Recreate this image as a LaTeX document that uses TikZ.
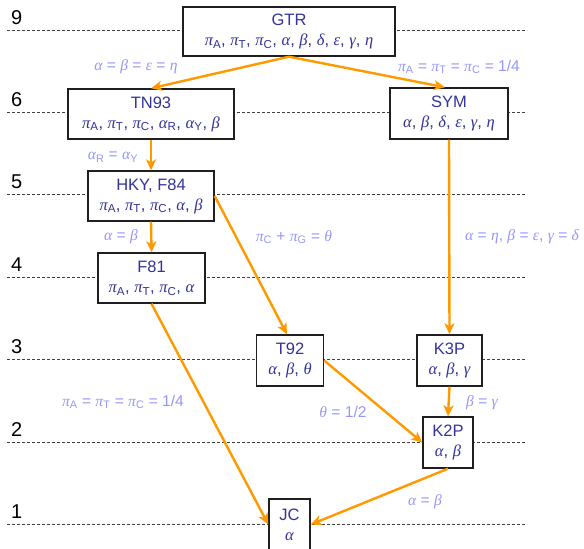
\documentclass[tikz,border=0pt]{standalone}
\usepackage{fontspec}
\setmainfont{Liberation Sans}
\newfontfamily\gkf{Liberation Serif}
\usetikzlibrary{arrows.meta}
\definecolor{boxblue}{RGB}{51,51,153}
\definecolor{lblblue}{RGB}{150,150,250}
\definecolor{arrorange}{RGB}{255,153,0}
\newcommand\gr[1]{{\gkf\itshape #1}}
\newcommand\pis[1]{\gr{π}\textsubscript{#1}}
\begin{document}
\begin{tikzpicture}[x=1pt,y=-1pt,
  box/.style={draw=black!88, line width=1.4pt, fill=white, text=boxblue, inner sep=0pt, align=center, font=\fontsize{16.5}{20}\selectfont},
  lbl/.style={text=lblblue, font=\fontsize{15.6}{18}\selectfont, inner sep=0pt},
  arr/.style={draw=arrorange, line width=2.4pt, -{Stealth[length=11pt,width=10pt,inset=3pt]}},
  lvl/.style={draw=black!75, line width=0.8pt, dash pattern=on 3pt off 2pt},
  num/.style={font=\fontsize{20}{20}\selectfont, anchor=base west, inner sep=0pt}]
\useasboundingbox (0,0) rectangle (584,549);
% level lines
\foreach \n/\yy in {9/30,6/112,5/194,4/277,3/359,2/442,1/524}{
  \coordinate (l\n a) at (7,\yy);
  \coordinate (l\n b) at (527,\yy);
  \draw[lvl] (l\n a) -- (l\n b);
  \node[num] (n\n) at (11,\yy-6) {\n};
}
% boxes
\node[box, minimum width=212pt, minimum height=49pt] (gtr) at (289,31.5) {GTR\\\pis{A}, \pis{T}, \pis{C}, \gr{α}, \gr{β}, \gr{δ}, \gr{ε}, \gr{γ}, \gr{η}};
\node[box, minimum width=166pt, minimum height=50pt] (tn93) at (151,114) {TN93\\\pis{A}, \pis{T}, \pis{C}, \gr{α}\textsubscript{R}, \gr{α}\textsubscript{Y}, \gr{β}};
\node[box, minimum width=118pt, minimum height=51pt] (sym) at (449,113.5) {SYM\\\gr{α}, \gr{β}, \gr{δ}, \gr{ε}, \gr{γ}, \gr{η}};
\node[box, minimum width=126pt, minimum height=50pt] (hky) at (151,196) {HKY, F84\\\pis{A}, \pis{T}, \pis{C}, \gr{α}, \gr{β}};
\node[box, minimum width=107pt, minimum height=50pt] (f81) at (151.5,278) {F81\\\pis{A}, \pis{T}, \pis{C}, \gr{α}};
\node[box, minimum width=67pt, minimum height=51pt] (t92) at (290,360.5) {T92\\\gr{α}, \gr{β}, \gr{θ}};
\node[box, minimum width=65pt, minimum height=51pt] (k3p) at (449.5,360.5) {K3P\\\gr{α}, \gr{β}, \gr{γ}};
\node[box, minimum width=50pt, minimum height=51pt] (k2p) at (448,442.5) {K2P\\\gr{α}, \gr{β}};
\node[box, minimum width=41pt, minimum height=51pt] (jc) at (289.5,524.5) {JC\\\gr{α}};
% arrows
\draw[arr] (gtr.south) -- (tn93.north);
\draw[arr] (gtr.south) -- ([xshift=-4pt]sym.north);
\draw[arr] (tn93.south) -- (hky.north);
\draw[arr] (hky.south) -- (f81.north);
\draw[arr] (hky.east) -- ([xshift=-3pt]t92.north);
\draw[arr] (sym.south) -- (k3p.north);
\draw[arr] (f81.south) -- (jc.west);
\draw[arr] (t92.east) -- (k2p.west);
\draw[arr] (k3p.south) -- (k2p.north);
\draw[arr] (k2p.south) -- (jc.east);
% labels
\node[lbl] (e1) at (136,67) {\gr{α} = \gr{β} = \gr{ε} = \gr{η}};
\node[lbl] (e2) at (459,67) {\pis{A} = \pis{T} = \pis{C} = 1/4};
\node[lbl] (e3) at (113,157) {\gr{α}\textsubscript{R} = \gr{α}\textsubscript{Y}};
\node[lbl] (e4) at (121,237) {\gr{α} = \gr{β}};
\node[lbl] (e5) at (294,237) {\pis{C} + \pis{G} = \gr{θ}};
\node[lbl] (e6) at (522,237) {\gr{α} = \gr{η}, \gr{β} = \gr{ε}, \gr{γ} = \gr{δ}};
\node[lbl] (e7) at (123,402) {\pis{A} = \pis{T} = \pis{C} = 1/4};
\node[lbl] (e8) at (343,412) {\gr{θ} = 1/2};
\node[lbl] (e9) at (482,403) {\gr{β} = \gr{γ}};
\node[lbl] (e10) at (425,502) {\gr{α} = \gr{β}};
\end{tikzpicture}
\end{document}
